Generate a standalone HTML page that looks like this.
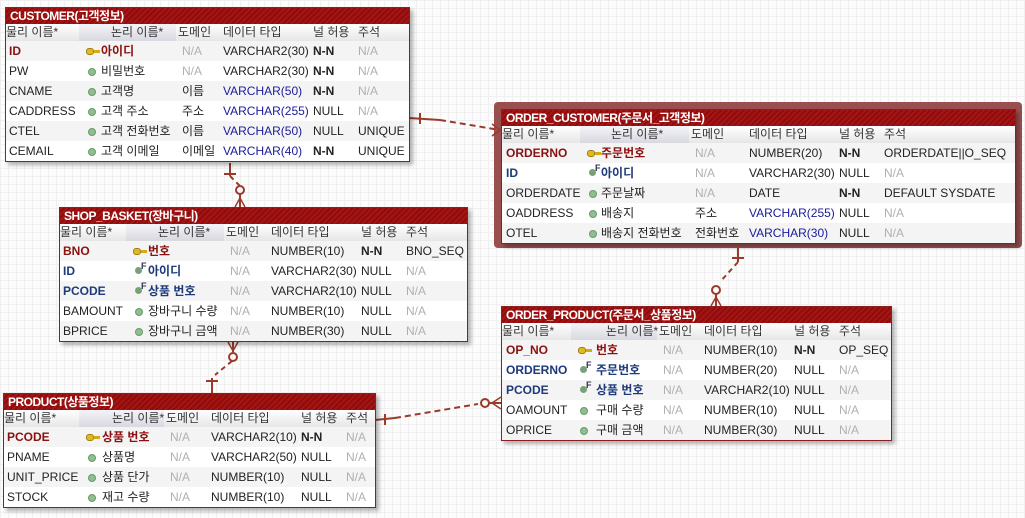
<!DOCTYPE html>
<html><head><meta charset="utf-8">
<style>
body{margin:0;width:1025px;height:518px;overflow:hidden;background:#fcfcfc;
background-image:linear-gradient(#f0f0f0 1px,transparent 1px),linear-gradient(90deg,#f0f0f0 1px,transparent 1px);background-size:8px 8px;
font-family:"Liberation Sans","Noto Sans CJK KR","NanumGothic",sans-serif;font-size:12px;color:#222;position:relative}
.tbl{position:absolute;background:#fff;border:1px solid #8a2020;box-shadow:3px 3px 4px rgba(0,0,0,.3)}
.ttl{height:16px;line-height:16px;color:#fff;font-weight:bold;font-size:12px;padding-left:4px;letter-spacing:-0.5px;
background:repeating-linear-gradient(135deg,#a51515 0 2px,#8e0c0c 2px 4px)}
.hdr{height:17px;line-height:17px;background:linear-gradient(#fff,#e6e6e6);position:relative;color:#333}
.row{height:20px;line-height:20px;position:relative}
.row:nth-child(odd){background:#f4f4f4}
.c{position:absolute;top:0;white-space:nowrap}
.na{color:#b0b0b0}.blue{color:#1a1a9a}.b{font-weight:bold}
.pk{color:#8b1010;font-weight:bold}.fk{color:#1d3a7a;font-weight:bold}
.dot{position:absolute;top:7px;width:6px;height:6px;border-radius:50%;background:#8fbf8f;border:1px solid #6a9a6a}
.key{position:absolute;top:7px;width:6px;height:5px;border-radius:3px;background:#e0b820;border:1px solid #a08010}
.key:after{content:"";position:absolute;left:7px;top:1px;width:6px;height:3px;background:#d4aa18}
.fki{position:absolute;top:6px;width:7px;height:7px;border-radius:50%;background:#7aa07a}
.fki:after{content:"F";position:absolute;left:6px;top:-5px;font-size:9px;line-height:9px;font-weight:bold;color:#335}
.sel{position:absolute;left:494px;top:102px;width:528px;height:146px;background:#9a4f4f;border-radius:4px}
</style></head><body>
<div class="sel"></div>
<svg width="1025" height="518" style="position:absolute;left:0;top:0">
<g stroke="#9b3a2a" stroke-width="2" fill="none">
<path d="M409 118 L440 120" /><path d="M440 120 L500 130" stroke-dasharray="6,4"/><path d="M420 113 L420 124"/>
<path d="M492 124 L500 130 L492 136" stroke-width="1.5"/>
<path d="M230 163 L230 176"/><path d="M230 176 L240 186" stroke-dasharray="5,4"/><circle cx="240" cy="190" r="4"/><path d="M240 194 L240 207"/><path d="M224 174 L236 174"/><path d="M235 207 L240 198 L245 207" stroke-width="1.5"/>
<path d="M738 248 L738 262"/><path d="M738 262 L720 282" stroke-dasharray="5,4"/><circle cx="716" cy="290" r="4"/><path d="M716 294 L716 306"/><path d="M732 258 L744 258"/><path d="M711 306 L716 297 L721 306" stroke-width="1.5"/>
<path d="M233 342 L233 352"/><circle cx="233" cy="357" r="4"/><path d="M232 361 L215 375" stroke-dasharray="5,4"/><path d="M212 378 L212 393"/><path d="M206 381 L218 381"/><path d="M228 342 L233 351 L238 342" stroke-width="1.5"/>
<path d="M375 420 L395 418"/><path d="M395 418 L478 404" stroke-dasharray="6,4"/><path d="M385 414 L385 425"/><circle cx="485" cy="403" r="4"/><path d="M489 403 L501 403"/><path d="M501 397 L492 403 L501 409" stroke-width="1.5"/>
</g></svg>
<div id="root"></div>
<script>
const customerRows=[["ID","아이디","N/A","VARCHAR2(30)","N-N","N/A","pk",0],["PW","비밀번호","N/A","VARCHAR2(30)","N-N","N/A","n",0],["CNAME","고객명","이름","VARCHAR(50)","N-N","N/A","n",1],["CADDRESS","고객 주소","주소","VARCHAR(255)","NULL","N/A","n",1],["CTEL","고객 전화번호","이름","VARCHAR(50)","NULL","UNIQUE","n",1],["CEMAIL","고객 이메일","이메일","VARCHAR(40)","N-N","UNIQUE","n",1]];
const orderCustomerRows=[["ORDERNO","주문번호","N/A","NUMBER(20)","N-N","ORDERDATE||O_SEQ","pk",0],["ID","아이디","N/A","VARCHAR2(30)","NULL","N/A","fk",0],["ORDERDATE","주문날짜","N/A","DATE","N-N","DEFAULT SYSDATE","n",0],["OADDRESS","배송지","주소","VARCHAR(255)","NULL","N/A","n",1],["OTEL","배송지 전화번호","전화번호","VARCHAR(30)","NULL","N/A","n",1]];
const basketRows=[["BNO","번호","N/A","NUMBER(10)","N-N","BNO_SEQ","pk",0],["ID","아이디","N/A","VARCHAR2(30)","NULL","N/A","fk",0],["PCODE","상품 번호","N/A","VARCHAR2(10)","NULL","N/A","fk",0],["BAMOUNT","장바구니 수량","N/A","NUMBER(10)","NULL","N/A","n",0],["BPRICE","장바구니 금액","N/A","NUMBER(30)","NULL","N/A","n",0]];
const orderProductRows=[["OP_NO","번호","N/A","NUMBER(10)","N-N","OP_SEQ","pk",0],["ORDERNO","주문번호","N/A","NUMBER(20)","NULL","N/A","fk",0],["PCODE","상품 번호","N/A","VARCHAR2(10)","NULL","N/A","fk",0],["OAMOUNT","구매 수량","N/A","NUMBER(10)","NULL","N/A","n",0],["OPRICE","구매 금액","N/A","NUMBER(30)","NULL","N/A","n",0]];
const productRows=[["PCODE","상품 번호","N/A","VARCHAR2(10)","N-N","N/A","pk",0],["PNAME","상품명","N/A","VARCHAR2(50)","NULL","N/A","n",0],["UNIT_PRICE","상품 단가","N/A","NUMBER(10)","NULL","N/A","n",0],["STOCK","재고 수량","N/A","NUMBER(10)","NULL","N/A","n",0]];
const tables=[
 {name:"customer-table",title:"CUSTOMER(고객정보)",x:5,y:7,w:403,cols:[3,81,95,176,217,307,352],rows:customerRows},
 {name:"order-customer-table",title:"ORDER_CUSTOMER(주문서_고객정보)",x:501,y:109,w:513,cols:[4,86,99,193,247,337,382],rows:orderCustomerRows},
 {name:"shop-basket-table",title:"SHOP_BASKET(장바구니)",x:59,y:207,w:407,cols:[3,74,88,170,211,301,346],rows:basketRows},
 {name:"order-product-table",title:"ORDER_PRODUCT(주문서_상품정보)",x:501,y:306,w:389,cols:[4,77,94,161,202,292,337],rows:orderProductRows},
 {name:"product-table",title:"PRODUCT(상품정보)",x:3,y:393,w:371,cols:[3,83,98,166,207,297,342],rows:productRows}];
const heads=["물리 이름*","논리 이름*","도메인","데이터 타입","널 허용","주석"];
const root=document.getElementById('root');
function cell(parent,x,text,cls){const s=document.createElement('span');s.className='c '+(cls||'');s.style.left=x+'px';s.textContent=text;


parent.appendChild(s);return s;}
tables.forEach(t=>{
 const d=document.createElement('div');d.className='tbl';d.style.left=t.x+'px';d.style.top=t.y+'px';d.style.width=t.w+'px';
 
 
 const ti=document.createElement('div');ti.className='ttl';ti.textContent=t.title;
 
 
 d.appendChild(ti);
 const h=document.createElement('div');h.className='hdr';
 
 
 const c=t.cols;
 const hx=[0,c[2]+10,c[3]-4,c[4],c[5],c[6]];
 const shade=document.createElement('div');shade.style.cssText='position:absolute;top:0;height:17px;background:linear-gradient(#f4f4f8,#d8d8e0);left:'+(c[1]-8)+'px;width:'+(c[3]-c[1]+2)+'px';h.appendChild(shade);
 heads.forEach((s,i)=>cell(h,hx[i],s));
 d.appendChild(h);
 const body=document.createElement('div');
 t.rows.forEach(r=>{
  const row=document.createElement('div');row.className='row';
  
  
  const k=r[6];
  cell(row,c[0],r[0],k==='n'?'':k);
  const ic=document.createElement('span');
  ic.className=k==='n'?'dot':(k==='pk'?'key':'fki');
  ic.style.left=(c[1]+(k==='pk'?-1:1))+'px';
  row.appendChild(ic);
  cell(row,c[2],r[1],k==='n'?'':k);
  cell(row,c[3],r[2],r[2]==='N/A'?'na':'');
  cell(row,c[4],r[3],r[7]?'blue':'');
  cell(row,c[5],r[4],r[4]==='N-N'?'b':'');
  cell(row,c[6],r[5],r[5]==='N/A'?'na':'');
  body.appendChild(row);
 });
 d.appendChild(body);root.appendChild(d);
});
</script>
</body></html>
